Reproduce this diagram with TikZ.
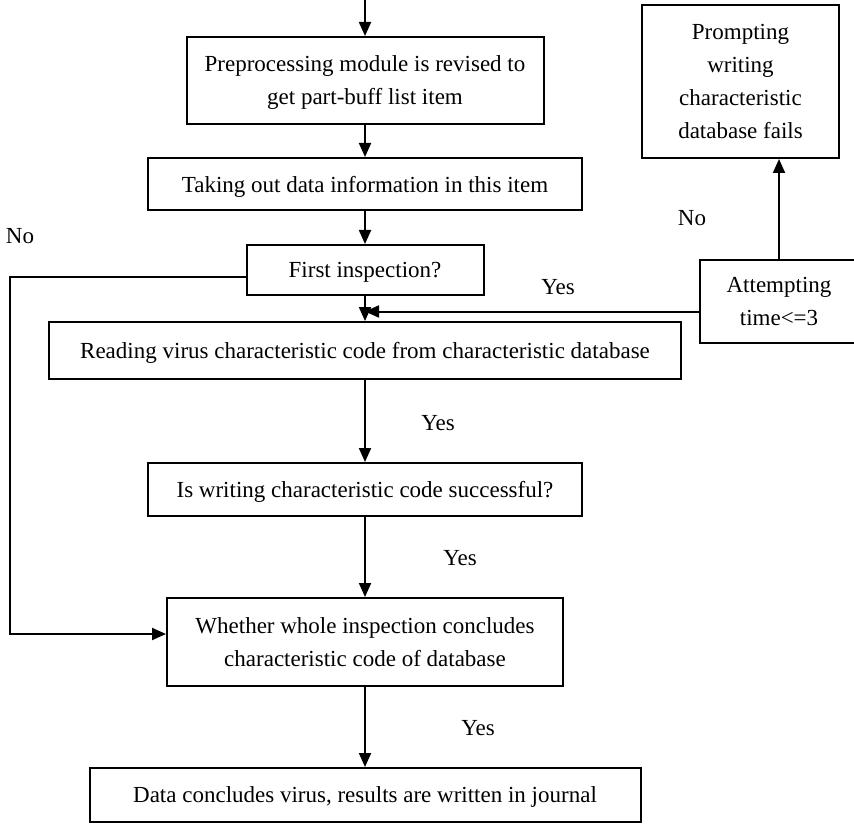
\documentclass[tikz,border=0pt]{standalone}
\usepackage{fontspec}
\setmainfont{Liberation Serif}
\usetikzlibrary{arrows.meta,calc,positioning}

\begin{document}
\begin{tikzpicture}[x=0.5pt,y=-0.5pt,
      >={Triangle[length=7pt,width=6pt]},
      flow/.style={->,line width=1pt,draw=black},
      stepbox/.style={draw=black,line width=1pt,align=center,inner sep=2pt,
        text depth=0pt,font=\fontsize{11.5}{16.5}\selectfont},
      note/.style={font=\fontsize{11.5}{14}\selectfont}
    ]
    \useasboundingbox (0,0) rectangle (854,823);
    \coordinate (start) at (365,0);
    \node[stepbox,minimum width=178.5pt,minimum height=43.5pt] (prep) at (365,80.5)
      {Preprocessing module is revised to\\get part-buff list item};
    \node[stepbox,minimum width=217pt,minimum height=26pt] (take) at (365,184)
      {Taking out data information in this item};
    \node[stepbox,minimum width=118.5pt,minimum height=25pt] (first) at (365,270)
      {First inspection?};
    \node[stepbox,minimum width=316pt,minimum height=28.5pt] (read) at (365,350.5)
      {Reading virus characteristic code from characteristic database};
    \node[stepbox,minimum width=217pt,minimum height=26.5pt] (write) at (365,489.5)
      {Is writing characteristic code successful?};
    \node[stepbox,minimum width=198pt,minimum height=44pt] (whole) at (365,642)
      {Whether whole inspection concludes\\characteristic code of database};
    \node[stepbox,minimum width=275.5pt,minimum height=27pt] (journal) at (365,795)
      {Data concludes virus, results are written in journal};
    \node[stepbox,minimum width=98.5pt,minimum height=76.5pt] (prompt) at (740.5,81.5)
      {Prompting\\writing\\characteristic\\database fails};
    \node[stepbox,minimum width=79pt,minimum height=41.5pt] (attempt) at (779,301.5)
      {Attempting\\time<=3};

    \draw[flow] (start) -- (prep);
    \draw[flow] (prep) -- (take);
    \draw[flow] (take) -- (first);
    \draw[flow] (first) -- (read);
    \draw[flow] (read) -- (write);
    \draw[flow] (write) -- (whole);
    \draw[flow] (whole) -- (journal);
    % retry loop on the right
    \draw[flow] ([yshift=-5pt]attempt.west) -- ([yshift=-5pt]attempt.west -| read.north);
    \draw[flow] (attempt.north) -- (attempt.north |- prompt.south);
    % skip loop on the left
    \coordinate (loopL) at (10,277);
    \coordinate (loopB) at (10,634);
    \draw[flow] ([yshift=-3.5pt]first.west) -- (loopL) -- (loopB) -- (loopB -| whole.west);

    \node[note] (noL) at (20,236) {No};
    \node[note] (yesR) at (558,287) {Yes};
    \node[note] (noR) at (692,218) {No};
    \node[note] (yesA) at (438,423) {Yes};
    \node[note] (yesB) at (460,558) {Yes};
    \node[note] (yesC) at (478,728) {Yes};
  \end{tikzpicture}
\end{document}
